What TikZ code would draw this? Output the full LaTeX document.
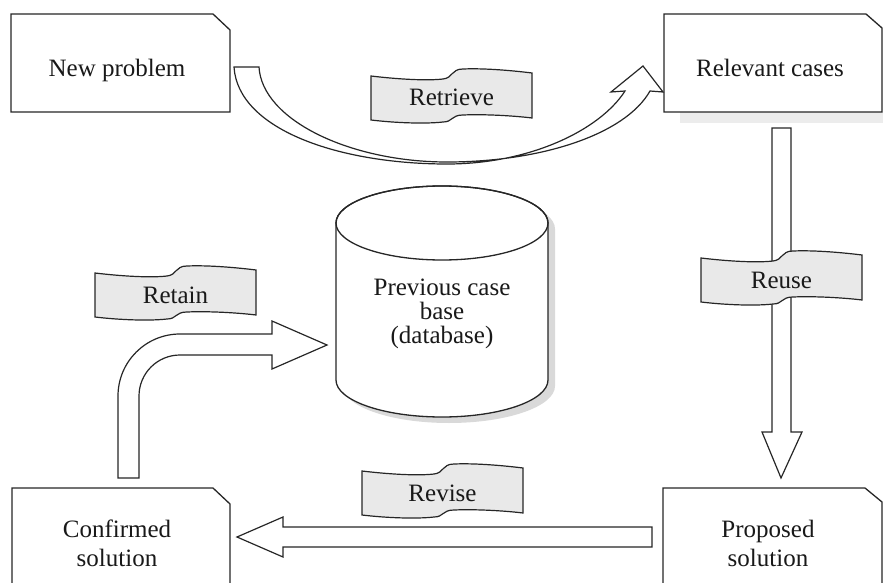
\documentclass[tikz,border=0pt]{standalone}
\usepackage{fontspec}
\setmainfont{LiberationSerif}[Extension=.ttf, UprightFont=*-Regular]
\begin{document}
\begin{tikzpicture}[x=1pt,y=-1pt,
  outline/.style={draw=black!85, line width=1.3pt, line join=miter},
  blk/.style={draw=black!85, line width=1.2pt, fill=white, line join=miter},
  ban/.style={draw=black!85, line width=1.2pt, fill=gray!17},
  txt/.style={font=\fontsize{25}{29}\selectfont, inner sep=0pt, anchor=base, text=black!90},
  boxn/.style={inner sep=0pt, outer sep=0pt, draw=none},
  pics/banner/.style={code={
    \draw[ban] (0,0) .. controls (25,3) and (55,5) .. (72,3)
      .. controls (82,2) and (80,-7) .. (92,-7)
      .. controls (115,-8) and (145,-5) .. (161,-3)
      -- (161,42)
      .. controls (145,40) and (115,38) .. (92,39)
      .. controls (80,39) and (82,46) .. (72,46)
      .. controls (55,48) and (25,47) .. (0,44) -- cycle;
    \node[txt] (-t) at (80.5,30) {#1};
  }}]
\useasboundingbox (0,0) rectangle (883,583);

% ---------- boxes ----------
\node[boxn, minimum width=219pt, minimum height=98pt] (np) at (120.5,63) {};
\draw[outline, fill=white] (np.south west) -- (np.north west) -- ([xshift=-17pt]np.north east)
  -- ([yshift=-16pt]np.north east) -- (np.south east) -- cycle;
\node[txt] (nptext) at (117,77) {New problem};

\fill[gray!15] (680,112) rectangle (883,123);
\node[boxn, minimum width=218pt, minimum height=98pt] (rc) at (773,63) {};
\draw[outline, fill=white] (rc.south west) -- (rc.north west) -- ([xshift=-16pt]rc.north east)
  -- ([yshift=-14pt]rc.north east) -- (rc.south east) -- cycle;
\node[txt] (rctext) at (770,77) {Relevant cases};

\node[boxn, minimum width=219pt, minimum height=112pt] (ps) at (772.5,544) {};
\draw[outline, fill=white] (ps.south west) -- (ps.north west) -- ([xshift=-17pt]ps.north east)
  -- ([yshift=-14pt]ps.north east) -- (ps.south east) -- cycle;
\node[txt] (pstext1) at (768,537) {Proposed};
\node[txt] (pstext2) at (768,566) {solution};

\node[boxn, minimum width=218pt, minimum height=112pt] (cs) at (121,544) {};
\draw[outline, fill=white] (cs.south west) -- (cs.north west) -- ([xshift=-17pt]cs.north east)
  -- ([yshift=-16pt]cs.north east) -- (cs.south east) -- cycle;
\node[txt] (cstext1) at (117,537) {Confirmed};
\node[txt] (cstext2) at (117,566) {solution};

% ---------- database cylinder ----------
\fill[gray!30] (343,229) -- (343,386) arc[start angle=180,end angle=360,x radius=106pt,y radius=37pt]
  -- (555,229) arc[start angle=0,end angle=180,x radius=106pt,y radius=37pt] -- cycle;
\draw[outline, fill=white] (336,223) -- (336,380) arc[start angle=180,end angle=360,x radius=106pt,y radius=37pt]
  -- (548,223) arc[start angle=0,end angle=180,x radius=106pt,y radius=37pt] -- cycle;
\draw[outline] (442,223) ellipse[x radius=106pt, y radius=37pt];
\node[txt] (db1) at (442,295) {Previous case};
\node[txt] (db2) at (442,319) {base};
\node[txt] (db3) at (442,343) {(database)};

% ---------- block arrows ----------
% Retrieve
\draw[blk] (259,67) -- (234,67) .. controls (238,130) and (340,164) .. (447,164)
  .. controls (530,164) and (600,130) .. (625,91) -- (611,92) -- (643,66) -- (663,92) -- (650,91)
  .. controls (625,135) and (540,162) .. (447,162)
  .. controls (350,162) and (262,120) .. (259,67) -- cycle;
% Reuse
\draw[blk] (772,128) -- (791,128) -- (791,432) -- (802,432) -- (781,478) -- (762,432) -- (772,432) -- cycle;
% Revise
\draw[blk] (652,527) -- (652,547) -- (283,547) -- (283,557) -- (237,537) -- (283,517) -- (283,527) -- cycle;
% Retain
\draw[blk] (139,478) -- (118,478) -- (118,396) arc[start angle=180,end angle=90,radius=62pt]
  -- (272,334) -- (272,321) -- (327,345) -- (272,369) -- (272,355) -- (180,355)
  arc[start angle=90,end angle=180,radius=41pt] -- cycle;

% ---------- banners ----------
\pic (retrieve) at (371,76) {banner=Retrieve};
\pic (reuse) at (701,258) {banner=Reuse};
\pic (retain) at (95,273) {banner=Retain};
\pic (revise) at (362,471) {banner=Revise};
\end{tikzpicture}
\end{document}
